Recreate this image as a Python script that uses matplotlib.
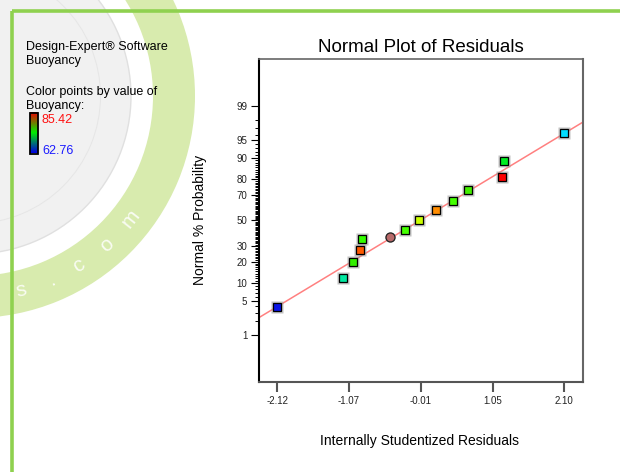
import numpy as np
import matplotlib.pyplot as plt
from matplotlib.patches import Wedge, Circle, Rectangle
from matplotlib.colors import LinearSegmentedColormap
from statistics import NormalDist

plt.rcParams['font.family'] = ['Liberation Sans', 'DejaVu Sans']

# residuals (sorted) and their normal % probability
residuals = [-2.12, -1.15, -1.00, -0.91, -0.87, -0.24, -0.04, 0.21, 0.47, 0.68, 1.19, 1.22, 2.10]
probability = [3.97, 11.9, 19.7, 27.6, 35.2, 42.7, 50.6, 58.1, 65.8, 73.4, 81.1, 88.8, 96.2]
point_colors = ['#0a14e6', '#00e8a0', '#33ee00', '#ff5a00', '#33ff00', '#44ff00', '#ccff00',
                '#ff8c00', '#44ff00', '#44ee00', '#ff0000', '#00ee22', '#00ddff']

# highlighted run (circle)
circ_res = -0.46
circ_prob = 37.0

# reference line in z units: z = a + b * residual
line_a = 0.018
line_b = 0.835

xticks = [-2.12, -1.07, -0.01, 1.05, 2.10]
yticks_pct = [1, 5, 10, 20, 30, 50, 70, 80, 90, 95, 99]

buoy_hi = '85.42'
buoy_lo = '62.76'

nd = NormalDist()
def z_of(p):
    return nd.inv_cdf(p / 100.0)

W, H = 620, 472
fig = plt.figure(figsize=(W / 100, H / 100), dpi=100)

# ---- background: frame + watermark (pixel coords) ----
bg = fig.add_axes([0, 0, 1, 1])
bg.set_xlim(0, W)
bg.set_ylim(H, 0)
bg.axis('off')

cx, cy = -27, 96
bg.add_patch(Circle((cx, cy), 158, facecolor='#f1f1f1', edgecolor='#e0e0e0', lw=1.0, zorder=1))
bg.add_patch(Wedge((cx, cy), 128, 0, 360, width=1.0, facecolor='#e6e6e6', edgecolor='none', zorder=1))
bg.add_patch(Wedge((cx, cy), 222, 0, 360, width=42, facecolor='#d8ebae', edgecolor='none', zorder=1))
for ch, phi in zip(['s', '.', 'c', 'o', 'm'], [76, 67, 58, 48, 38]):
    r = 200
    px = cx + r * np.cos(np.radians(phi))
    py = cy + r * np.sin(np.radians(phi))
    bg.text(px, py, ch, color='white', alpha=0.85, fontsize=15, rotation=90 - phi,
            ha='center', va='center', zorder=2)

# green frame
bg.plot([12, W], [11, 11], color='#8fd14f', lw=2.6, solid_capstyle='butt', zorder=3)
bg.plot([12, 12], [11, H], color='#8fd14f', lw=2.6, solid_capstyle='butt', zorder=3)

# side notes
bg.text(26, 50, 'Design-Expert\u00ae Software', fontsize=9, va='baseline', zorder=4)
bg.text(26, 64, 'Buoyancy', fontsize=9, va='baseline', zorder=4)
bg.text(26, 95, 'Color points by value of', fontsize=9, va='baseline', zorder=4)
bg.text(26, 109, 'Buoyancy:', fontsize=9, va='baseline', zorder=4)
bg.text(42, 123, buoy_hi, fontsize=9, color='#ff1010', va='baseline', zorder=4)
bg.text(42, 154, buoy_lo, fontsize=9, color='#1a1aff', va='baseline', zorder=4)

cmap = LinearSegmentedColormap.from_list('rgb', ['#0000e0', '#00ee00', '#ee0000'])
grad = np.linspace(0, 1, 100).reshape(-1, 1)
bg.imshow(grad, cmap=cmap, extent=[29.5, 37.5, 153.5, 113], origin='lower',
          aspect='auto', zorder=4)
bg.add_patch(Rectangle((29.5, 113), 8, 40.5, fill=False, edgecolor='black', lw=1.3, zorder=5))

# titles / labels
fig.text(421 / W, 1 - 47 / H, 'Normal Plot of Residuals', fontsize=13.5, ha='center', va='center')
fig.text(419 / W, 1 - 441 / H, 'Internally Studentized Residuals', fontsize=10, ha='center', va='center')
fig.text(200 / W, 1 - 220 / H, 'Normal % Probability', fontsize=10, rotation=90,
         ha='center', va='center')

# ---- main plot ----
ax = fig.add_axes([259 / W, 1 - 382 / H, (583 - 259) / W, (382 - 59) / H])
ax.set_facecolor('white')
ax.set_xlim(-2.39, 2.38)
ax.set_ylim(-3.29, 3.29)

xl = np.array(ax.get_xlim())
ax.plot(xl, line_a + line_b * xl, color='#ff8080', lw=1.1, zorder=2)

zp = [z_of(p) for p in probability]
for xv, yv, c in zip(residuals, zp, point_colors):
    ax.plot(xv, yv, 's', ms=8, color='#9a9a9a', alpha=0.6, mec='none', zorder=3)
    ax.plot(xv, yv, 's', ms=6.2, color=c, mec='black', mew=0.9, zorder=4)
ax.plot(circ_res, z_of(circ_prob), 'o', ms=7.5, color='#9a9a9a', alpha=0.6, mec='none', zorder=3)
ax.plot(circ_res, z_of(circ_prob), 'o', ms=6.5, color='#b86a6a', mec='#222222', mew=0.9, zorder=4)

# axes styling
ax.set_xticks(xticks)
ax.set_xticklabels(['%.2f' % v for v in xticks])
ax.set_yticks([z_of(p) for p in yticks_pct])
ax.set_yticklabels([str(p) for p in yticks_pct])
minor = [p for p in range(1, 100) if p not in yticks_pct]
ax.set_yticks([z_of(p) for p in minor], minor=True)

ax.tick_params(axis='x', direction='out', length=7, width=1.5, color='#555555',
               labelsize=7, labelcolor='#222222', pad=3)
ax.tick_params(axis='y', which='major', direction='out', length=6, width=0.8,
               color='black', labelsize=7, labelcolor='#222222', pad=2.5)
ax.tick_params(axis='y', which='minor', direction='out', length=2.6, width=0.7, color='black')

ax.spines['left'].set_color('black')
ax.spines['left'].set_linewidth(1.5)
ax.spines['bottom'].set_color('#555555')
ax.spines['bottom'].set_linewidth(1.5)
ax.spines['top'].set_color('#666666')
ax.spines['top'].set_linewidth(1.2)
ax.spines['right'].set_color('#666666')
ax.spines['right'].set_linewidth(1.5)

fig.savefig('out.png', dpi=100)
